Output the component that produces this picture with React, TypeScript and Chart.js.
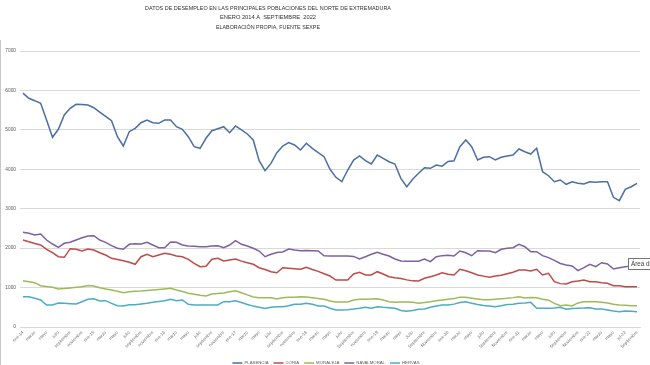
import React, { useEffect, useRef } from 'react';
import { Chart, registerables } from 'chart.js';
Chart.register(...registerables);

const titleLines = [
  'DATOS DE DESEMPLEO EN LAS PRINCIPALES POBLACIONES DEL NORTE DE EXTREMADURA',
  'ENERO 2014 A  SEPTIEMBRE  2022',
  'ELABORACIÓN PROPIA, FUENTE SEXPE',
];

const months = [
  'ene-14','febrero','marzo','abril','mayo','junio','julio','agosto','septiembre','octubre','noviembre','diciembre',
  'ene-15','febrero','marzo','abril','mayo','junio','julio','agosto','septiembre','octubre','noviembre','diciembre',
  'ene-16','febrero','marzo','abril','mayo','junio','julio','agosto','septiembre','octubre','noviembre','diciembre',
  'ene-17','febrero','marzo','abril','mayo','junio','julio','agosto','septiembre','octubre','noviembre','diciembre',
  'ene-18','febrero','marzo','abril','mayo','junio','julio','agosto','Septiembre','octubre','noviembre','diciembre',
  'ene-19','febrero','marzo','abril','mayo','junio','Julio','agosto','Septiembre','octubre','Noviembre','diciembre',
  'ene-20','febrero','marzo','abril','mayo','junio','julio','agosto','Septiembre','octubre','Noviembre','diciembre',
  'ene-21','febrero','marzo','abril','mayo','junio','julio','agosto','Septiembre','octubre','Noviembre','diciembre',
  'ene-22','febrero','marzo','abril','mayo','junio','jul-22','agosto','Septiembre',
];

const plasencia = [
  5930, 5800, 5740, 5673, 5250, 4811, 5014, 5377, 5546, 5648, 5640, 5630,
  5562, 5450, 5340, 5232, 4826, 4590, 4953, 5039, 5181, 5250, 5181, 5165,
  5250, 5250, 5080, 5014, 4826, 4573, 4532, 4786, 4978, 5030, 5080, 4928,
  5098, 5000, 4895, 4743, 4218, 3964, 4150, 4421, 4590, 4675, 4616, 4489,
  4659, 4532, 4421, 4319, 4000, 3796, 3685, 3982, 4235, 4337, 4218, 4134,
  4362, 4278, 4192, 4134, 3771, 3558, 3746, 3898, 4040, 4024, 4108, 4080,
  4200, 4218, 4573, 4743, 4573, 4235, 4304, 4319, 4235, 4304, 4337, 4362,
  4514, 4446, 4387, 4532, 3939, 3837, 3685, 3728, 3619, 3685, 3644, 3627,
  3685, 3670, 3685, 3685, 3289, 3203, 3492, 3558, 3644,
];

const coria = [
  2206, 2164, 2120, 2080, 1971, 1884, 1783, 1767, 1986, 1971, 1927, 1978,
  1953, 1884, 1826, 1742, 1710, 1680, 1640, 1590, 1783, 1844, 1783, 1826,
  1869, 1844, 1800, 1783, 1717, 1616, 1530, 1540, 1717, 1742, 1674, 1699,
  1724, 1670, 1630, 1590, 1504, 1460, 1400, 1377, 1504, 1490, 1475, 1463,
  1514, 1460, 1410, 1350, 1293, 1192, 1192, 1192, 1344, 1387, 1319, 1319,
  1403, 1344, 1276, 1251, 1230, 1195, 1170, 1167, 1235, 1276, 1319, 1377,
  1340, 1319, 1463, 1428, 1377, 1319, 1290, 1260, 1293, 1310, 1350, 1390,
  1446, 1446, 1420, 1463, 1320, 1360, 1150, 1100, 1091, 1149, 1167, 1192,
  1149, 1149, 1124, 1108, 1047, 1047, 1022, 1022, 1022,
];

const moraleja = [
  1174, 1150, 1124, 1047, 1030, 1007, 964, 975, 990, 1007, 1022, 1050,
  1040, 997, 965, 938, 905, 870, 895, 905, 913, 925, 938, 950,
  965, 981, 938, 900, 855, 830, 805, 786, 837, 850, 860, 895,
  921, 870, 815, 760, 745, 743, 743, 710, 740, 753, 753, 765,
  760, 743, 720, 702, 659, 634, 634, 634, 685, 702, 702, 710,
  718, 685, 642, 625, 635, 635, 625, 600, 620, 642, 668, 685,
  702, 720, 753, 753, 730, 710, 690, 690, 702, 715, 727, 745,
  769, 735, 745, 740, 702, 680, 600, 541, 558, 533, 610, 642,
  642, 642, 625, 610, 575, 560, 550, 541, 541,
];

const navalmoral = [
  2402, 2376, 2333, 2359, 2206, 2105, 2021, 2122, 2148, 2206, 2265, 2308,
  2316, 2206, 2148, 2062, 1996, 1971, 2097, 2113, 2105, 2148, 2080, 2011,
  2011, 2156, 2148, 2080, 2054, 2046, 2037, 2037, 2054, 2062, 2011, 2080,
  2189, 2097, 2054, 1996, 1927, 1783, 1844, 1890, 1902, 1978, 1953, 1935,
  1940, 1935, 1927, 1808, 1800, 1800, 1800, 1800, 1790, 1724, 1783, 1844,
  1894, 1844, 1800, 1724, 1674, 1666, 1666, 1670, 1724, 1657, 1783, 1810,
  1820, 1800, 1927, 1884, 1808, 1935, 1927, 1927, 1884, 1971, 1996, 2011,
  2097, 2037, 1910, 1910, 1810, 1760, 1690, 1610, 1572, 1547, 1428, 1504,
  1590, 1530, 1631, 1598, 1471, 1504, 1530, 1547, 1560,
];

const hervas = [
  769, 769, 727, 685, 558, 558, 609, 600, 590, 583, 642, 702,
  718, 660, 668, 600, 540, 533, 566, 566, 583, 600, 626, 645,
  668, 702, 668, 685, 575, 558, 558, 558, 558, 558, 642, 642,
  668, 620, 570, 530, 499, 470, 499, 516, 516, 540, 575, 580,
  600, 575, 533, 533, 474, 431, 431, 440, 455, 474, 499, 474,
  516, 499, 490, 474, 420, 400, 420, 449, 457, 499, 530, 560,
  558, 580, 620, 642, 600, 570, 545, 530, 516, 540, 570, 580,
  600, 610, 625, 474, 474, 474, 480, 499, 449, 470, 474, 480,
  490, 457, 457, 430, 406, 389, 406, 400, 389,
];

const seriesNames = ['PLASENCIA', 'CORIA', 'MORALEJA', 'NAVALMORAL', 'HERVÁS'];
const seriesValues = [plasencia, coria, moraleja, navalmoral, hervas];
const seriesColors = ['#4A6FA5', '#BE4B48', '#9BBB59', '#7D60A0', '#4BACC6'];

const yMax = 7000;
const yStep = 1000;

const FONT = '"Liberation Sans", Arial, sans-serif';

const decorPlugin = {
  id: 'decor',
  afterDraw(chart: any) {
    const ctx = chart.ctx;
    const area = chart.chartArea;
    ctx.save();
    // frame line on the left
    ctx.strokeStyle = '#c8c8c8';
    ctx.lineWidth = 1;
    ctx.beginPath();
    ctx.moveTo(0.5, 40);
    ctx.lineTo(0.5, 365);
    ctx.stroke();

    // title
    ctx.fillStyle = '#303030';
    ctx.textAlign = 'center';
    ctx.textBaseline = 'middle';
    ctx.font = `6.2px ${FONT}`;
    const tx = 268;
    ctx.fillText(titleLines[0], tx, 8, 246);
    ctx.fillText(titleLines[1], tx, 17.5, 96);
    ctx.fillText(titleLines[2], tx, 27.5, 104);

    // legend
    ctx.font = `4.3px ${FONT}`;
    ctx.textAlign = 'left';
    const sample = 10;
    const gap = 2;
    const itemGap = 5;
    const widths = chart.data.datasets.map((d: any) => sample + gap + ctx.measureText(d.label).width);
    const total = widths.reduce((a: number, b: number) => a + b, 0) + itemGap * (widths.length - 1);
    let x = (area.left + area.right) / 2 - 4 - total / 2;
    const ly = 363;
    chart.data.datasets.forEach((d: any, i: number) => {
      ctx.strokeStyle = d.borderColor;
      ctx.lineWidth = 1.5;
      ctx.beginPath();
      ctx.moveTo(x, ly);
      ctx.lineTo(x + sample, ly);
      ctx.stroke();
      ctx.fillStyle = '#595959';
      ctx.fillText(d.label, x + sample + gap, ly);
      x += widths[i] + itemGap;
    });

    // hover tooltip from the source screenshot
    ctx.fillStyle = '#ffffff';
    ctx.strokeStyle = '#767676';
    ctx.lineWidth = 1;
    ctx.fillRect(628.5, 258.5, 40, 11);
    ctx.strokeRect(628.5, 258.5, 40, 11);
    ctx.fillStyle = '#404040';
    ctx.font = `6.3px ${FONT}`;
    ctx.fillText('Área de trazado', 631, 264.5);
    ctx.restore();
  },
};

export default function App() {
  const ref = useRef<HTMLCanvasElement | null>(null);
  useEffect(() => {
    if (!ref.current) return;
    const chart = new Chart(ref.current, {
      type: 'line',
      data: {
        labels: months,
        datasets: seriesNames.map((name, i) => ({
          label: name,
          data: seriesValues[i],
          borderColor: seriesColors[i],
          backgroundColor: seriesColors[i],
          borderWidth: 1.5,
          pointRadius: 0,
          tension: 0,
          fill: false,
        })),
      },
      options: {
        animation: false,
        responsive: false,
        maintainAspectRatio: false,
        events: [],
        layout: { padding: { top: 51, right: 10, left: 0, bottom: 0 } },
        plugins: {
          legend: { display: false },
          title: { display: false },
          tooltip: { enabled: false },
        },
        scales: {
          x: {
            offset: true,
            grid: { display: false, drawTicks: false },
            border: { display: true, color: '#d9d9d9' },
            ticks: {
              autoSkip: false,
              minRotation: 45,
              maxRotation: 45,
              padding: 3,
              color: '#6a6a6a',
              font: { size: 4.3, family: FONT },
              callback: (_v: any, idx: number) => (idx % 2 === 0 ? months[idx] : ''),
            },
            afterFit: (scale: any) => { scale.height = 38; },
          },
          y: {
            min: 0,
            max: yMax,
            grid: { color: '#d9d9d9', drawTicks: false },
            border: { display: false },
            ticks: {
              stepSize: yStep,
              padding: 4,
              color: '#595959',
              font: { size: 4.8, family: FONT },
              callback: (v: any) => String(v),
            },
            afterFit: (scale: any) => { scale.width = 20; },
          },
        },
      },
      plugins: [decorPlugin],
    });
    return () => chart.destroy();
  }, []);
  return (
    <div style={{ position: 'absolute', left: 0, top: 0, width: 650, height: 365, background: '#fff' }}>
      <canvas ref={ref} width={650} height={365} style={{ display: 'block' }} />
    </div>
  );
}
